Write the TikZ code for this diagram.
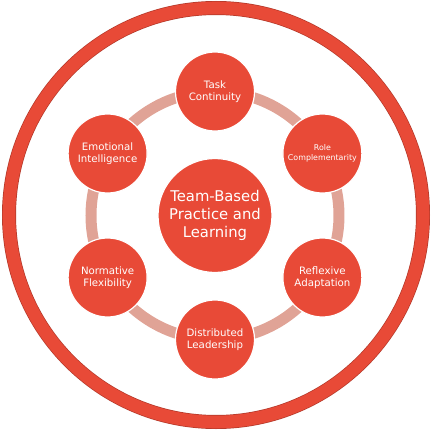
\documentclass[tikz,border=0pt]{standalone}
\usepackage{fontspec}
\setmainfont{DejaVu Sans}
\usetikzlibrary{backgrounds}
\definecolor{ringred}{HTML}{E84A37}
\definecolor{ringedge}{HTML}{B3392A}
\definecolor{linkpink}{HTML}{E0A396}

\begin{document}
\begin{tikzpicture}[x=1pt, y=1pt,
  every node/.style={circle, fill=ringred, draw=white, line width=1.2pt, text=white, align=center, inner sep=0pt},
  facet/.style={minimum size=79pt, font=\fontsize{10.2}{11.8}\selectfont},
  hub/.style={minimum size=114pt, font=\fontsize{14.8}{17.8}\selectfont},
  link/.style={linkpink, line width=11pt}]
  \useasboundingbox (-215,-221.5) rectangle (220,215.5);
  \node[hub] (hub) at (0,0) {Team-Based\\Practice and\\Learning};
  \node[facet] (task) at (90:124) {Task\\Continuity};
  \node[facet, font=\fontsize{7.9}{10}\selectfont] (role) at (30:124) {Role\\Complementarity};
  \node[facet] (refl) at (-30:124) {Reflexive\\Adaptation};
  \node[facet] (dist) at (-90:124) {Distributed\\Leadership};
  \node[facet] (norm) at (-150:124) {Normative\\Flexibility};
  \node[facet] (emot) at (150:124) {Emotional\\Intelligence};
  \begin{scope}[on background layer]
    % outer ring
    \draw[ringedge, line width=14pt] (1,0.5) circle (207);
    \draw[ringred, line width=12.6pt] (1,0.5) circle (207);
    % ring of links
    \draw[link] (task.center) arc[start angle=90, end angle=30, radius=124];
    \draw[link] (role.center) arc[start angle=30, end angle=-30, radius=124];
    \draw[link] (refl.center) arc[start angle=-30, end angle=-90, radius=124];
    \draw[link] (dist.center) arc[start angle=-90, end angle=-150, radius=124];
    \draw[link] (norm.center) arc[start angle=-150, end angle=-210, radius=124];
    \draw[link] (emot.center) arc[start angle=150, end angle=90, radius=124];
  \end{scope}
\end{tikzpicture}
\end{document}
